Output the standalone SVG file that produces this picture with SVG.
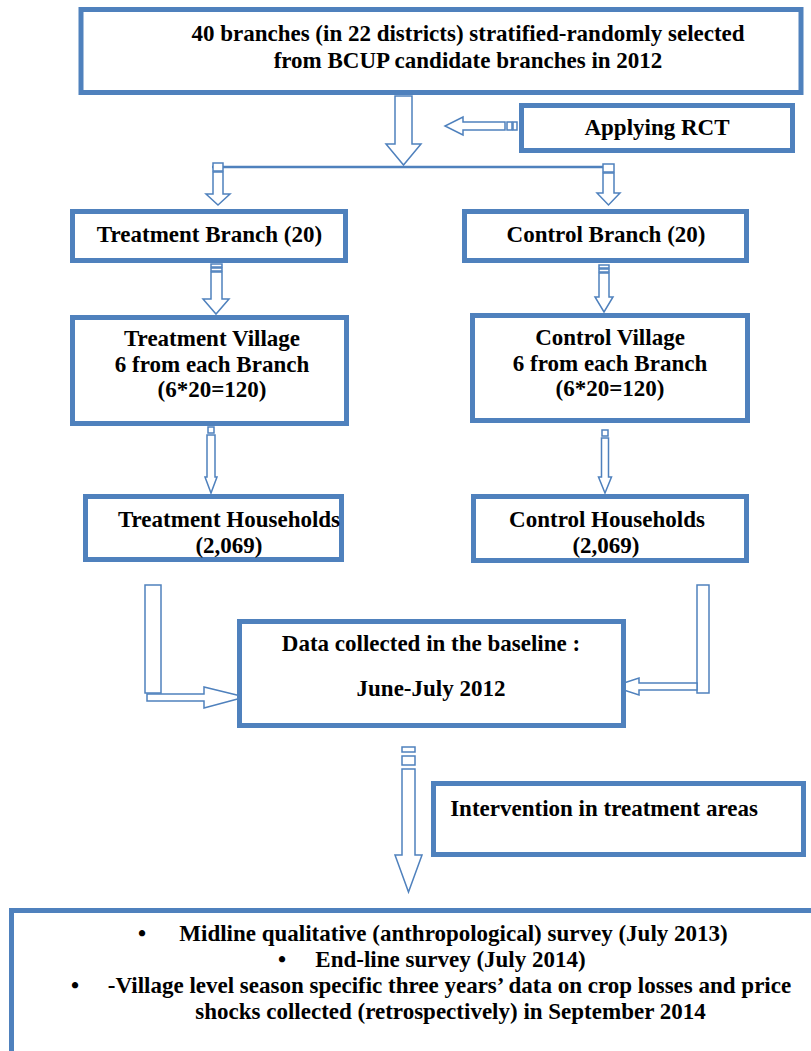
<svg xmlns="http://www.w3.org/2000/svg" width="811" height="1051" viewBox="0 0 811 1051">
<style>
.box{fill:#fff;stroke:#4F81BD;stroke-width:5}
.arr{fill:#fff;stroke:#4F81BD;stroke-width:1.5;stroke-linejoin:miter}
.ln{stroke:#4F81BD;stroke-width:2.5;fill:none}
text{font-family:"Liberation Serif","Times New Roman",serif;font-weight:bold;font-size:23px;fill:#000}
.c{text-anchor:middle}
</style>
<rect width="811" height="1051" fill="#fff"/>
<g id="connectors">
<polygon class="arr" points="395,96 412,96 412,144 421,144 403.5,165 386,144 395,144"/>
<polygon class="arr" points="505,122 463,122 463,117 445,126 463,135 463,130 505,130"/>
<rect class="arr" x="507" y="122" width="5" height="8"/>
<rect class="arr" x="513" y="122" width="4" height="8"/>
<line class="ln" x1="212" y1="167" x2="614" y2="167"/>
<rect class="arr" x="213" y="163" width="10" height="8"/>
<polygon class="arr" points="213,172 223,172 223,194 230,194 218,205 206,194 213,194"/>
<rect class="arr" x="603" y="164" width="11" height="8"/>
<polygon class="arr" points="603,173 614,173 614,193 620,193 608.5,205 597,193 603,193"/>
<rect class="arr" x="211" y="264" width="11" height="3"/>
<rect class="arr" x="211" y="268" width="11" height="3"/>
<polygon class="arr" points="211,272 222,272 222,299 229,299 216,314 203,299 211,299"/>
<rect class="arr" x="599" y="265" width="10" height="3"/>
<rect class="arr" x="599" y="269" width="10" height="3"/>
<polygon class="arr" points="599,273 609,273 609,297 613,297 604,312 595,297 599,297"/>
<rect class="arr" x="208" y="427" width="6" height="6"/>
<polygon class="arr" points="207,435 215,435 215,477 217,477 211,493 205,477 207,477"/>
<rect class="arr" x="602" y="430" width="6" height="6"/>
<polygon class="arr" points="601.5,438 608.5,438 608.5,477 611.5,477 605,493 598.5,477 601.5,477"/>
<rect class="arr" x="145" y="585" width="16" height="108"/>
<polygon class="arr" points="147,694 204,694 204,687 245,697 204,708 204,701 147,701"/>
<rect class="arr" x="697" y="585" width="12" height="108"/>
<polygon class="arr" points="697,683 639,683 639,678 613,686.5 639,695 639,690 697,690"/>
<rect class="arr" x="402" y="747" width="13" height="5"/>
<rect class="arr" x="402" y="756" width="13" height="9"/>
<polygon class="arr" points="402,769 415,769 415,855 422,855 408.5,892 395,855 402,855"/>
</g>
<g id="n-top">
<rect class="box" x="81" y="9.5" width="720" height="83"/>
<text class="c" x="468" y="41">40 branches (in 22 districts) stratified-randomly selected</text>
<text class="c" x="468" y="68">from BCUP candidate branches in 2012</text>
</g>
<g id="n-rct">
<rect class="box" x="521.5" y="105.5" width="271" height="45"/>
<text class="c" x="657" y="135">Applying RCT</text>
</g>
<g id="n-tbranch">
<rect class="box" x="72.5" y="211.5" width="273" height="49"/>
<text class="c" x="209.5" y="242">Treatment Branch (20)</text>
</g>
<g id="n-cbranch">
<rect class="box" x="464.5" y="211.5" width="282" height="49"/>
<text class="c" x="606" y="242">Control Branch (20)</text>
</g>
<g id="n-tvillage">
<rect class="box" x="72.5" y="317.5" width="274" height="106"/>
<text class="c" x="212" y="346">Treatment Village</text>
<text class="c" x="212" y="372">6 from each Branch</text>
<text class="c" x="212" y="397">(6*20=120)</text>
</g>
<g id="n-cvillage">
<rect class="box" x="472.5" y="315.5" width="275" height="105"/>
<text class="c" x="610" y="345">Control Village</text>
<text class="c" x="610" y="371">6 from each Branch</text>
<text class="c" x="610" y="396">(6*20=120)</text>
</g>
<g id="n-thh">
<rect class="box" x="85.5" y="496.5" width="256" height="63"/>
<text class="c" x="229" y="527">Treatment Households</text>
<text class="c" x="229" y="553">(2,069)</text>
</g>
<g id="n-chh">
<rect class="box" x="473.5" y="496.5" width="273" height="64"/>
<text class="c" x="607" y="527">Control Households</text>
<text class="c" x="606" y="553">(2,069)</text>
</g>
<g id="n-baseline">
<rect class="box" x="239.5" y="621.5" width="384" height="104"/>
<text class="c" x="431" y="651">Data collected in the baseline :</text>
<text class="c" x="431" y="696">June-July 2012</text>
</g>
<g id="n-intervention">
<rect class="box" x="433.5" y="783.5" width="370" height="71"/>
<text class="c" x="604" y="816">Intervention in treatment areas</text>
</g>
<g id="n-surveys">
<rect class="box" x="11.5" y="910.5" width="830" height="200"/>
<text class="c" x="142" y="941">•</text>
<text class="c" x="453.5" y="941">Midline qualitative (anthropological) survey (July 2013)</text>
<text class="c" x="282" y="967">•</text>
<text class="c" x="450.5" y="967">End-line survey (July 2014)</text>
<text class="c" x="75" y="993">•</text>
<text class="c" x="449.5" y="993">-Village level season specific three years’ data on crop losses and price</text>
<text class="c" x="450.5" y="1019">shocks collected (retrospectively) in September 2014</text>
</g>
</svg>
